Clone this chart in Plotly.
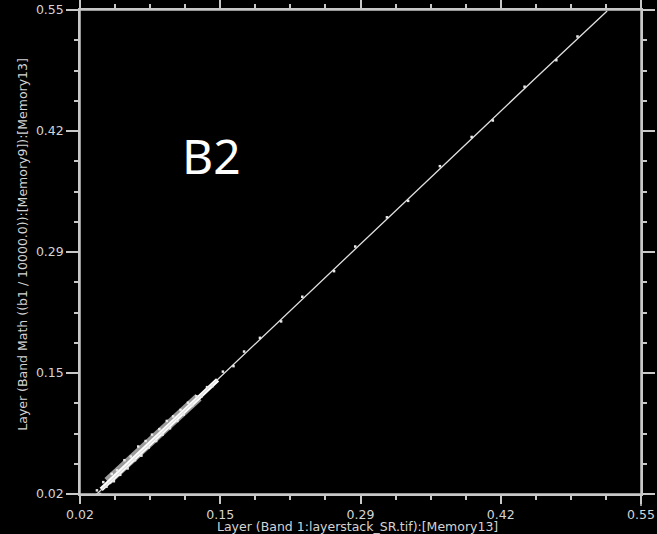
import plotly.graph_objects as go

# ---- data ----
x_tick_vals = [0.02, 0.1525, 0.285, 0.4175, 0.55]
x_tick_text = ["0.02", "0.15", "0.29", "0.42", "0.55"]
y_tick_vals = [0.02, 0.1525, 0.285, 0.4175, 0.55]
y_tick_text = ["0.02", "0.15", "0.29", "0.42", "0.55"]

# dense core of the scatter cloud
core_x = [0.040, 0.060, 0.080, 0.100, 0.120, 0.150]
core_y = [0.025, 0.047, 0.069, 0.090, 0.112, 0.145]
# widest part of the cloud
wide_x = [0.046, 0.070, 0.090, 0.110, 0.132]
wide_y = [0.034, 0.060, 0.082, 0.103, 0.126]
# thin ridge through the whole range
ridge_x = [0.035, 0.150, 0.200, 0.250, 0.300, 0.350, 0.400, 0.450, 0.500, 0.518]
ridge_y = [0.019, 0.145, 0.200, 0.255, 0.310, 0.365, 0.420, 0.475, 0.530, 0.549]
# scattered pixels around the ridge
spk_x = [0.036, 0.039, 0.042, 0.045, 0.050, 0.052, 0.055, 0.058, 0.062, 0.065,
         0.068, 0.072, 0.075, 0.078, 0.082, 0.085, 0.088, 0.092, 0.095, 0.098,
         0.102, 0.105, 0.108, 0.112, 0.115, 0.118, 0.122, 0.126, 0.130, 0.135,
         0.140, 0.145, 0.155, 0.165, 0.175, 0.190, 0.210, 0.230, 0.260, 0.280,
         0.310, 0.330, 0.360, 0.390, 0.410, 0.440, 0.470, 0.490]
spk_y = [0.024, 0.020, 0.033, 0.028, 0.042, 0.034, 0.046, 0.041, 0.057, 0.048,
         0.061, 0.057, 0.072, 0.062, 0.078, 0.071, 0.085, 0.078, 0.091, 0.085,
         0.100, 0.092, 0.105, 0.100, 0.112, 0.107, 0.120, 0.117, 0.127, 0.127,
         0.137, 0.138, 0.154, 0.160, 0.176, 0.191, 0.209, 0.236, 0.264, 0.291,
         0.323, 0.341, 0.379, 0.411, 0.429, 0.466, 0.495, 0.521]

x_title = "Layer (Band 1:layerstack_SR.tif):[Memory13]"
y_title = "Layer (Band Math ((b1 / 10000.0)):[Memory9]):[Memory13]"
label = "B2"

AX = "#c8c8c8"
TX = "#d4d4d4"

fig = go.Figure()
fig.add_trace(go.Scatter(x=wide_x, y=wide_y, mode="lines",
                         line=dict(color="#d0d0d0", width=9), opacity=0.75, hoverinfo="skip"))
fig.add_trace(go.Scatter(x=core_x, y=core_y, mode="lines",
                         line=dict(color="#ffffff", width=4.5), hoverinfo="skip"))
fig.add_trace(go.Scatter(x=ridge_x, y=ridge_y, mode="lines",
                         line=dict(color="#e0e0e0", width=1.3), hoverinfo="skip"))
fig.add_trace(go.Scatter(x=spk_x, y=spk_y, mode="markers",
                         marker=dict(color="#e8e8e8", size=2.5, symbol="square"),
                         hoverinfo="skip"))

axis_common = dict(
    showgrid=False, zeroline=False, showline=True, linecolor=AX, linewidth=1.5,
    mirror="ticks", ticks="outside", tickcolor=AX, tickwidth=1.5, automargin=False,
    tickfont=dict(family="DejaVu Sans", size=12.5, color=TX),
    range=[0.02, 0.55],
)
fig.update_xaxes(**axis_common, tickvals=x_tick_vals, ticktext=x_tick_text, ticklen=8,
                 ticklabelstandoff=0,
                 minor=dict(tick0=0.02, dtick=0.033125, ticklen=4, ticks="outside",
                            tickcolor=AX, tickwidth=1.5, showgrid=False))
fig.update_yaxes(**axis_common, tickvals=y_tick_vals, ticktext=y_tick_text, ticklen=12,
                 ticklabelstandoff=0,
                 minor=dict(tick0=0.02, dtick=0.033125, ticklen=4, ticks="outside",
                            tickcolor=AX, tickwidth=1.5, showgrid=False))

# axis line extensions beyond the box
ex, ey = 12 / 561, 12 / 484
for (x0, y0, x1, y1) in [(-ex, 0, 1 + ex, 0), (-ex, 1, 1 + ex, 1),
                         (0, -ey * 0.75, 0, 1 + 0.7 * ey), (1, -ey, 1, 1 + ey)]:
    fig.add_shape(type="line", xref="paper", yref="paper", x0=x0, y0=y0, x1=x1, y1=y1,
                  line=dict(color=AX, width=1.5), layer="above")

fig.add_annotation(text=x_title, xref="paper", yref="paper", x=0.495, y=0,
                   yshift=-32, showarrow=False, xanchor="center", yanchor="middle",
                   font=dict(family="DejaVu Sans", size=12.5, color=TX))
fig.add_annotation(text=y_title, xref="paper", yref="paper", x=0, y=0.515,
                   xshift=-57, showarrow=False, textangle=-90, xanchor="center",
                   yanchor="middle", font=dict(family="DejaVu Sans", size=12.5, color=TX))
fig.add_annotation(text=label, xref="paper", yref="paper", x=0.235, y=0.70,
                   showarrow=False, xanchor="center", yanchor="middle",
                   font=dict(family="Noto Sans", size=48, color="#ffffff"))

fig.update_layout(
    width=657, height=534, paper_bgcolor="#000000", plot_bgcolor="#000000",
    margin=dict(l=80, r=16, t=10, b=40), showlegend=False,
)
# remove the page's default 8px body margin so the figure sits at the window origin
fig.write_html("out.html", config={"displayModeBar": False},
               post_script="document.body.style.margin='0';document.body.style.background='#000';")
